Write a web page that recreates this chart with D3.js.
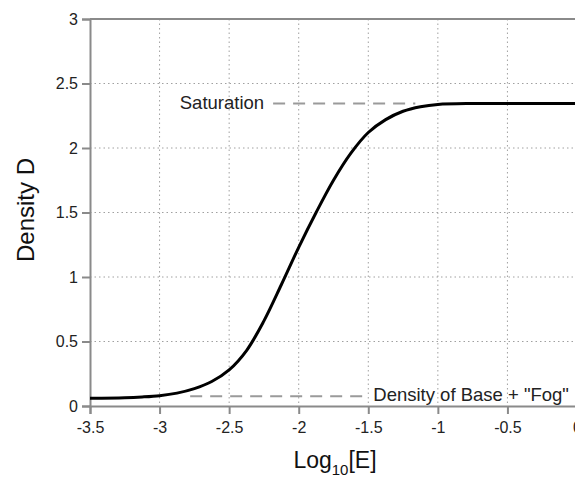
<!DOCTYPE html>
<html>
<head>
<meta charset="utf-8">
<script src="https://cdn.jsdelivr.net/npm/d3@7"></script>
<style>
  body { margin: 0; background: #fff; }
  svg { display: block; font-family: "Liberation Sans", Arial, sans-serif; }
</style>
</head>
<body>
<svg width="575" height="479"></svg>
<script>
// characteristic curve
const logE = [-3.5, -3.25, -3.125, -3.0, -2.875, -2.75, -2.625, -2.5, -2.375, -2.25, -2.125, -2.0, -1.875, -1.75, -1.625, -1.5, -1.375, -1.25, -1.125, -1.0, -0.75, -0.5, 0];
const density = [0.06, 0.064, 0.07, 0.08, 0.1, 0.135, 0.19, 0.28, 0.43, 0.66, 0.94, 1.23, 1.5, 1.75, 1.96, 2.12, 2.22, 2.285, 2.32, 2.338, 2.345, 2.345, 2.345];
const xTicks = [-3.5, -3, -2.5, -2, -1.5, -1, -0.5, 0];
const yTicks = [0, 0.5, 1, 1.5, 2, 2.5, 3];

// reference levels
const saturation = 2.345;
const saturationSpan = [-2.184, -1.162];
const baseFog = 0.075;
const baseFogSpan = [-2.78, -1.5];

const svg = d3.select('svg');
const margin = { top: 19, right: -2, bottom: 73, left: 90 };
const width = +svg.attr('width') - margin.left - margin.right;
const height = +svg.attr('height') - margin.top - margin.bottom;
const g = svg.append('g').attr('transform', `translate(${margin.left},${margin.top})`);

const x = d3.scaleLinear().domain([-3.5, 0]).range([0, width]);
const y = d3.scaleLinear().domain([0, 3]).range([height, 0]);

const axisColor = '#8a8a8a';

// grid
g.append('g')
  .selectAll('line')
  .data(xTicks.filter(d => d > -3.5))
  .join('line')
  .attr('x1', d => x(d)).attr('x2', d => x(d))
  .attr('y1', 0).attr('y2', height)
  .attr('stroke', '#a0a0a0')
  .attr('stroke-dasharray', '1.5,3');

g.append('g')
  .selectAll('line')
  .data(yTicks.filter(d => d > 0 && d < 3))
  .join('line')
  .attr('x1', 0).attr('x2', width)
  .attr('y1', d => y(d)).attr('y2', d => y(d))
  .attr('stroke', '#a0a0a0')
  .attr('stroke-dasharray', '1.5,3');

// top border
g.append('line')
  .attr('x1', 0).attr('x2', width)
  .attr('y1', 0).attr('y2', 0)
  .attr('stroke', axisColor).attr('stroke-width', 2);

// axes
const xAxis = g.append('g')
  .attr('transform', `translate(0,${height})`)
  .call(d3.axisBottom(x).tickValues(xTicks).tickFormat(d => String(d)).tickSize(8).tickPadding(8));

const yAxis = g.append('g')
  .call(d3.axisLeft(y).tickValues(yTicks).tickFormat(d => String(d)).tickSize(8).tickPadding(4));

[xAxis, yAxis].forEach(a => {
  a.select('.domain').attr('stroke', axisColor).attr('stroke-width', 2);
  a.selectAll('.tick line').attr('stroke', axisColor).attr('stroke-width', 2);
  a.selectAll('.tick text').attr('fill', '#222').style('font-size', '16px')
    .style('font-family', '"Liberation Sans", Arial, sans-serif');
});

// dashed reference lines
const dash = '12,8';
g.append('line')
  .attr('x1', x(saturationSpan[0])).attr('x2', x(saturationSpan[1]))
  .attr('y1', y(saturation)).attr('y2', y(saturation))
  .attr('stroke', '#9a9a9a').attr('stroke-width', 2).attr('stroke-dasharray', dash);

g.append('line')
  .attr('x1', x(baseFogSpan[0])).attr('x2', x(baseFogSpan[1]))
  .attr('y1', y(baseFog)).attr('y2', y(baseFog))
  .attr('stroke', '#9a9a9a').attr('stroke-width', 2).attr('stroke-dasharray', dash);

// curve
const line = d3.line()
  .x((d, i) => x(logE[i]))
  .y(d => y(d))
  .curve(d3.curveCatmullRom.alpha(0.5));

g.append('path')
  .datum(density)
  .attr('fill', 'none')
  .attr('stroke', '#000')
  .attr('stroke-width', 3)
  .attr('stroke-linejoin', 'round')
  .attr('d', line);

// annotations
g.append('text')
  .attr('x', x(saturationSpan[0]) - 9)
  .attr('y', y(saturation) + 6)
  .attr('text-anchor', 'end')
  .attr('fill', '#222')
  .style('font-size', '18.5px')
  .text('Saturation');

g.append('text')
  .attr('x', x(baseFogSpan[1]) + 5)
  .attr('y', y(baseFog) + 5)
  .attr('fill', '#222')
  .style('font-size', '18.5px')
  .text('Density of Base + "Fog"');

// axis titles
const xTitle = svg.append('text')
  .attr('x', 335)
  .attr('y', 468)
  .attr('text-anchor', 'middle')
  .attr('fill', '#111')
  .style('font-size', '23px');
xTitle.append('tspan').text('Log');
xTitle.append('tspan').attr('dy', 7).style('font-size', '15px').text('10');
xTitle.append('tspan').attr('dy', -7).text('[E]');

svg.append('text')
  .attr('transform', 'translate(34,210) rotate(-90)')
  .attr('text-anchor', 'middle')
  .attr('fill', '#111')
  .style('font-size', '24px')
  .text('Density D');
</script>
</body>
</html>
